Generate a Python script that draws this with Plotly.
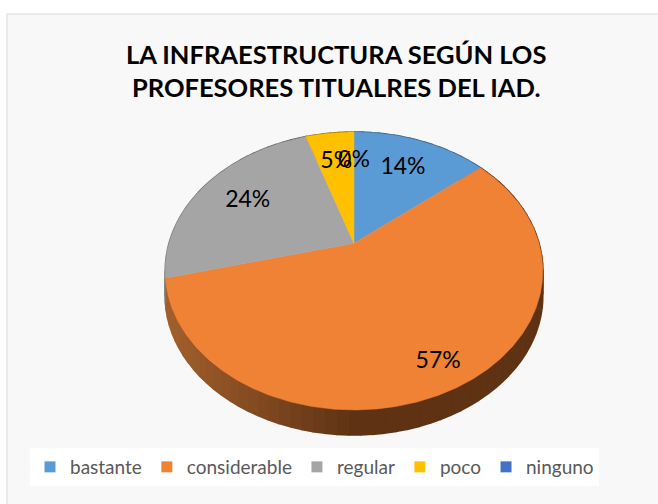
import numpy as np
import plotly.graph_objects as go

# ---- data ----
categories = ["bastante", "considerable", "regular", "poco", "ninguno"]
values = [14, 57, 24, 5, 0]

# ---- style ----
top_colors = ["#5B9BD5", "#F08236", "#A5A5A5", "#FFC000", "#4472C4"]
side_light = ["#4A7EAE", "#A3602C", "#7A7A7A", "#C09000", "#33558F"]
side_dark = ["#2F5678", "#5E3213", "#555555", "#8A6800", "#243D66"]
label_radius = [0.7, 0.85, 0.7, 0.7, 0.7]

W, H = 658, 504
CX, CY, RX, RY, P, DEPTH = 354.0, 243.2, 185.0, 133.4, 0.2, 25.0


def proj(theta_deg, f=1.0):
    t = np.radians(theta_deg)
    X = f * np.sin(t)
    Z = f * np.cos(t)
    d = 1 + P * Z
    return CX + RX * X / d, CY - RY * Z / d


def hex2rgb(h):
    return tuple(int(h[i:i + 2], 16) for i in (1, 3, 5))


def lerp(c1, c2, t):
    a, b = hex2rgb(c1), hex2rgb(c2)
    return "rgb(%d,%d,%d)" % tuple(round(a[i] + (b[i] - a[i]) * t) for i in range(3))


total = float(sum(values))
starts, ends = [], []
acc = 0.0
for v in values:
    starts.append(acc / total * 360)
    acc += v
    ends.append(acc / total * 360)

fig = go.Figure()

# side walls (drawn first)
xmin, xmax = CX - RX * 1.02, CX + RX * 1.02
for i, v in enumerate(values):
    if v <= 0:
        continue
    a0, a1 = starts[i], ends[i]
    n = max(2, int(np.ceil((a1 - a0) / 3)))
    edges = np.linspace(a0, a1, n + 1)
    for k in range(n):
        th = np.linspace(edges[k], edges[k + 1], 4)
        xs, ys = proj(th)
        px = list(xs) + list(xs[::-1])
        py = list(ys) + list(ys[::-1] + DEPTH)
        t = (np.mean(xs) - xmin) / (xmax - xmin)
        t = min(1.0, max(0.0, t / 0.5))
        col = lerp(side_light[i], side_dark[i], t)
        fig.add_trace(go.Scatter(x=px, y=py, fill="toself", mode="lines",
                                 line=dict(width=1.6, color=col), fillcolor=col,
                                 hoverinfo="skip", showlegend=False))

# top surfaces
cxp, cyp = proj(0, 0)
for i, v in enumerate(values):
    if v <= 0:
        continue
    th = np.linspace(starts[i], ends[i], max(3, int((ends[i] - starts[i]) * 2)))
    xs, ys = proj(th)
    px = [cxp] + list(xs) + [cxp]
    py = [cyp] + list(ys) + [cyp]
    fig.add_trace(go.Scatter(x=px, y=py, fill="toself", mode="lines",
                             line=dict(width=0.5, color=top_colors[i]),
                             fillcolor=top_colors[i], hoverinfo="skip",
                             showlegend=False, name=categories[i]))

# percentage labels
lx, ly, lt = [], [], []
for i, v in enumerate(values):
    mid = (starts[i] + ends[i]) / 2
    x, y = proj(mid, label_radius[i])
    lx.append(x)
    ly.append(y)
    lt.append("%d%%" % round(v / total * 100))
fig.add_trace(go.Scatter(x=lx, y=ly, text=lt, mode="text",
                         textfont=dict(family="Lato", size=23, color="#000000"),
                         hoverinfo="skip", showlegend=False))

# legend entries
for i, c in enumerate(categories):
    fig.add_trace(go.Scatter(x=[None], y=[None], mode="markers", name=c,
                             marker=dict(symbol="square", size=11, color=top_colors[i])))

fig.update_layout(
    width=W, height=H,
    margin=dict(l=0, r=0, t=0, b=0),
    paper_bgcolor="white", plot_bgcolor="rgba(0,0,0,0)",
    xaxis=dict(range=[0, W], visible=False, fixedrange=True),
    yaxis=dict(range=[H, 0], visible=False, fixedrange=True),
    shapes=[dict(type="rect", xref="x", yref="y", x0=7, y0=14, x1=W + 2, y1=H + 2,
                 fillcolor="#F8F8F8", line=dict(color="#D9D9D9", width=1), layer="below")],
    annotations=[dict(x=336, y=70, xref="x", yref="y", showarrow=False,
                      text="<b>LA INFRAESTRUCTURA SEGÚN LOS<br>PROFESORES TITUALRES DEL IAD.</b>",
                      font=dict(family="Lato", size=25.5, color="#000000"))],
    legend=dict(orientation="h", x=30 / W, xanchor="left", y=1 - 448 / H, yanchor="top",
                bgcolor="white", font=dict(family="Lato", size=19, color="#595959"),
                itemclick=False),
    showlegend=True,
)

fig.write_html("out.html", config={"displayModeBar": False},
               post_script="document.body.style.margin='0px';")
